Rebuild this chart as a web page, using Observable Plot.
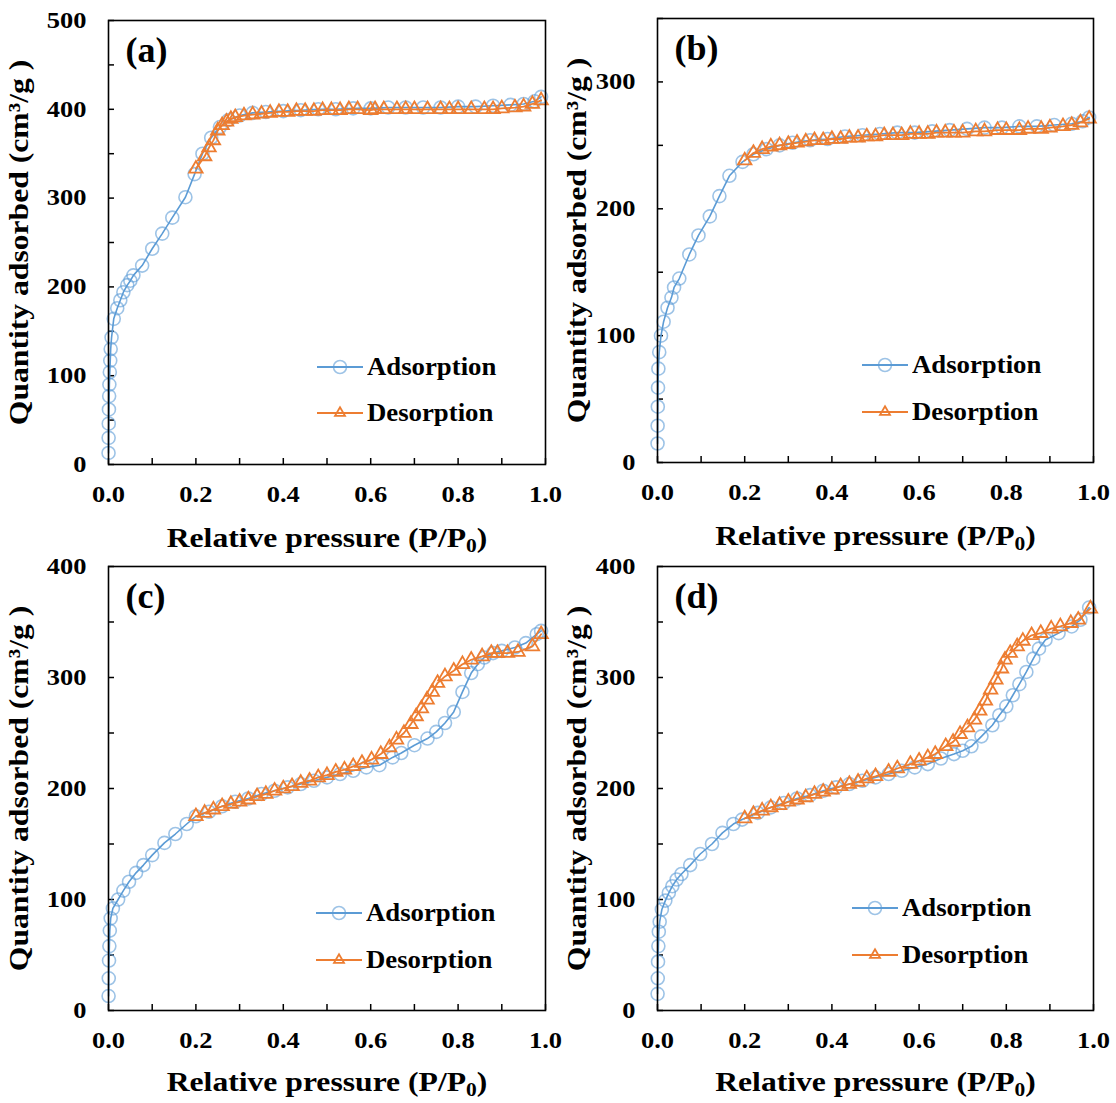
<!DOCTYPE html>
<html><head><meta charset="utf-8">
<script src="https://cdn.jsdelivr.net/npm/d3@7"></script>
<script src="https://cdn.jsdelivr.net/npm/@observablehq/plot@0.6"></script>
<style>
html,body{margin:0;padding:0;background:#fff;}
#root{position:relative;width:1116px;height:1103px;overflow:hidden;background:#fff;}
.panel{position:absolute;}
.panel svg{overflow:visible;}
.panel g[aria-label="x-axis label"] text,.panel g[aria-label="y-axis label"] text{font-size:28px !important;}
.leg{position:absolute;display:flex;align-items:center;height:30px;font-family:"Liberation Serif","Times New Roman",serif;font-weight:bold;font-size:25px;color:#000;white-space:nowrap;}
.leg span{display:inline-block;transform:scaleX(1.07);transform-origin:left center;margin-left:2px;}
</style></head>
<body><div id="root"></div>
<script>
// ---------- data ----------
const xTicks = [0,0.1,0.2,0.3,0.4,0.5,0.6,0.7,0.8,0.9,1.0];
const xTickLabels = [0,0.2,0.4,0.6,0.8,1.0];

// (a)
const aYTicks = [0,50,100,150,200,250,300,350,400,450,500];
const aYLabels = [0,100,200,300,400,500];
const aAdsP = [0.0001,0.0003,0.0006,0.001,0.0015,0.002,0.003,0.004,0.005,0.007,0.012,0.02,0.027,0.034,0.043,0.05,0.057,0.077,0.1,0.123,0.146,0.176,0.197,0.215,0.235,0.255,0.275,0.3,0.33,0.36,0.4,0.44,0.48,0.52,0.56,0.6,0.64,0.68,0.72,0.76,0.8,0.84,0.88,0.92,0.95,0.975,0.99];
const aAdsQ = [13,30,46,62,77,90,104,117,130,143,164,176,185,194,202,207,213,224,243,260,278,301,327,350,368,380,388,393,396,397,398,399,400,400,401,401,402,402,402,402,403,403,404,405,406,409,414];
const aDesP = [0.99,0.97,0.95,0.93,0.9,0.88,0.86,0.83,0.8,0.78,0.76,0.73,0.7,0.68,0.66,0.63,0.61,0.6,0.57,0.55,0.53,0.51,0.49,0.47,0.45,0.43,0.41,0.39,0.37,0.35,0.33,0.31,0.29,0.28,0.27,0.26,0.25,0.24,0.23,0.22,0.2];
const aDesQ = [410,406,403,402,401,400,400,400,400,400,400,400,400,400,400,400,400,399,400,400,399,399,399,398,398,398,397,397,396,395,394,393,391,389,386,382,376,365,357,347,333];

// (b)
const bYTicks = [0,50,100,150,200,250,300,350];
const bYLabels = [0,100,200,300];
const bAdsP = [0.0001,0.0003,0.0007,0.0012,0.002,0.004,0.008,0.014,0.023,0.032,0.038,0.05,0.073,0.094,0.12,0.142,0.165,0.195,0.22,0.25,0.28,0.31,0.35,0.39,0.43,0.47,0.51,0.55,0.59,0.63,0.67,0.71,0.75,0.79,0.83,0.87,0.91,0.95,0.975,0.99];
const bAdsQ = [15,29,44,59,74,87,100,111,122,130,138,145,164,179,194,210,226,237,243,247,250,252,254,255,257,258,259,260,260,261,262,263,264,264,265,265,266,267,269,272];
const bDesP = [0.99,0.97,0.95,0.93,0.9,0.88,0.85,0.83,0.8,0.78,0.75,0.73,0.7,0.68,0.66,0.64,0.62,0.6,0.58,0.56,0.54,0.52,0.5,0.48,0.46,0.44,0.42,0.4,0.38,0.36,0.34,0.32,0.3,0.28,0.26,0.24,0.22,0.2];
const bDesQ = [271,268,266,265,264,263,263,262,262,262,261,261,260,260,260,260,259,259,259,258,258,258,257,257,256,256,255,255,254,254,253,252,251,250,249,247,244,238];

// (c)
const cYTicks = [0,50,100,150,200,250,300,350,400];
const cYLabels = [0,100,200,300,400];
const cAdsP = [0.0002,0.0006,0.0012,0.002,0.003,0.005,0.01,0.022,0.034,0.047,0.063,0.08,0.1,0.128,0.153,0.179,0.2,0.23,0.26,0.29,0.32,0.35,0.38,0.41,0.44,0.47,0.5,0.53,0.56,0.59,0.62,0.65,0.67,0.7,0.73,0.75,0.77,0.79,0.81,0.83,0.845,0.86,0.88,0.9,0.93,0.955,0.98,0.99];
const cAdsQ = [13,29,45,58,72,83,92,100,108,116,124,131,140,151,159,168,175,179,184,188,191,195,198,201,204,207,210,213,216,219,221,228,232,239,245,251,259,269,287,304,312,318,322,324,327,331,339,342];
const cDesP = [0.99,0.97,0.937,0.913,0.89,0.876,0.855,0.83,0.81,0.79,0.77,0.753,0.741,0.729,0.716,0.704,0.692,0.676,0.659,0.643,0.623,0.602,0.58,0.56,0.54,0.52,0.5,0.48,0.46,0.44,0.42,0.4,0.38,0.36,0.34,0.32,0.3,0.28,0.26,0.24,0.22,0.2];
const cDesQ = [339,328,323,322,322,322,319,316,312,306,301,295,287,280,272,265,258,250,244,237,231,226,223,220,217,215,212,210,207,205,202,200,198,195,193,190,188,186,184,181,178,175];

// (d)
const dYTicks = [0,50,100,150,200,250,300,350,400];
const dYLabels = [0,100,200,300,400];
const dAdsP = [0.0002,0.0006,0.0012,0.002,0.003,0.005,0.01,0.018,0.026,0.034,0.044,0.055,0.075,0.098,0.125,0.149,0.174,0.194,0.23,0.26,0.29,0.32,0.35,0.38,0.41,0.44,0.47,0.5,0.53,0.56,0.59,0.62,0.65,0.68,0.7,0.72,0.743,0.768,0.784,0.8,0.815,0.83,0.846,0.862,0.875,0.89,0.92,0.95,0.97,0.99];
const dAdsQ = [15,29,44,58,71,80,91,99,106,112,118,123,131,141,150,160,168,172,178,183,187,191,194,198,201,204,207,210,213,216,219,222,227,231,234,238,247,257,266,274,284,294,305,317,326,334,340,346,352,363];
const dDesP = [0.993,0.965,0.948,0.924,0.903,0.879,0.858,0.838,0.825,0.809,0.797,0.789,0.776,0.764,0.752,0.739,0.727,0.711,0.694,0.678,0.661,0.637,0.62,0.6,0.58,0.55,0.53,0.5,0.48,0.46,0.44,0.42,0.4,0.38,0.36,0.34,0.32,0.3,0.28,0.26,0.24,0.22,0.2];
const dDesQ = [362,352,349,346,344,340,338,333,328,322,316,308,298,289,279,270,262,255,249,242,238,231,228,225,222,218,215,211,209,206,204,202,199,197,195,192,190,188,185,183,180,177,173];

const seriesNames = ["Adsorption","Desorption"];
const panelTags = ["(a)","(b)","(c)","(d)"];
const xTitle = "Relative pressure (P/P0)";
const yTitle = "Quantity adsorbed (cm³/g )";

// ---------- layout ----------
const BLUE = "#5B9BD5", ORANGE = "#ED7D31";
const panels = [
  {tag:panelTags[0], left:0,   top:0,   w:558, h:551, mt:20, mr:13, mb:87, ml:108, lo:82, yTicks:aYTicks, yLabels:aYLabels, ads:[aAdsP,aAdsQ], des:[aDesP,aDesQ], leg:{x:317,y1:367,y2:413}},
  {tag:panelTags[1], left:558, top:0,   w:558, h:551, mt:18, mr:23, mb:89, ml:99,  lo:82, yTicks:bYTicks, yLabels:bYLabels, ads:[bAdsP,bAdsQ], des:[bDesP,bDesQ], leg:{x:862,y1:365,y2:412}},
  {tag:panelTags[2], left:0,   top:551, w:558, h:552, mt:15, mr:13, mb:93, ml:108, lo:80, yTicks:cYTicks, yLabels:cYLabels, ads:[cAdsP,cAdsQ], des:[cDesP,cDesQ], leg:{x:316,y1:913,y2:960}},
  {tag:panelTags[3], left:558, top:551, w:558, h:552, mt:15, mr:23, mb:93, ml:99,  lo:80, yTicks:dYTicks, yLabels:dYLabels, ads:[dAdsP,dAdsQ], des:[dDesP,dDesQ], leg:{x:852,y1:908,y2:955}}
];

const root = document.getElementById("root");
const SVGNS = "http://www.w3.org/2000/svg";

function stretch(el, k) {
  const L = el.getComputedTextLength();
  if (L > 0) { el.setAttribute("textLength", (L * k).toFixed(1)); el.setAttribute("lengthAdjust", "spacingAndGlyphs"); }
}

panels.forEach(p => {
  const ads = p.ads[0].map((x, i) => ({p: x, q: p.ads[1][i]}));
  const des = p.des[0].map((x, i) => ({p: x, q: p.des[1][i]}));
  const yMax = p.yTicks[p.yTicks.length - 1];
  const svg = Plot.plot({
    width: p.w, height: p.h,
    marginTop: p.mt, marginRight: p.mr, marginBottom: p.mb, marginLeft: p.ml,
    x: {domain: [0, 1]},
    y: {domain: [0, yMax]},
    style: {fontFamily: "'Liberation Serif', 'Times New Roman', serif", fontWeight: "bold", color: "#000", background: "transparent", overflow: "visible"},
    marks: [
      Plot.axisX(xTicks, {tickSize: -6, tickFormat: () => "", label: null, strokeWidth: 1.5}),
      Plot.axisX(xTickLabels, {tickSize: 0, tickPadding: 21, tickFormat: d3.format(".1f"), fontSize: 23,
        label: xTitle, labelAnchor: "center", labelArrow: "none", labelOffset: p.lo}),
      Plot.axisY(p.yTicks, {tickSize: -6, tickFormat: () => "", label: null, strokeWidth: 1.5}),
      Plot.axisY(p.yLabels, {tickSize: 0, tickPadding: 22, fontSize: 23,
        label: yTitle, labelAnchor: "center", labelArrow: "none", labelOffset: p.ml - 8}),
      Plot.line(ads, {x: "p", y: "q", stroke: BLUE, strokeWidth: 1.6}),
      Plot.dot(ads, {x: "p", y: "q", r: 6.5, stroke: BLUE, strokeOpacity: 0.6, strokeWidth: 1.6, fill: "none"}),
      Plot.line(des, {x: "p", y: "q", stroke: ORANGE, strokeWidth: 1.8}),
      Plot.dot(des, {x: "p", y: "q", symbol: "triangle", r: 5, stroke: ORANGE, strokeWidth: 1.8, fill: "none"}),
      Plot.text([p.tag], {text: d => d, frameAnchor: "top-left", dx: 17, dy: 16, fontSize: 36, lineAnchor: "top", textAnchor: "start", fill: "#000"}),
      Plot.frame({stroke: "#000", strokeWidth: 1.6})
    ]
  });
  const div = document.createElement("div");
  div.className = "panel";
  div.style.left = p.left + "px";
  div.style.top = p.top + "px";
  div.style.width = p.w + "px";
  div.style.height = p.h + "px";
  div.appendChild(svg);
  root.appendChild(div);

  // subscript 0 in the x title
  const xl = svg.querySelector('g[aria-label="x-axis label"] text');
  if (xl) {
    xl.textContent = "Relative pressure (P/P";
    const sub = document.createElementNS(SVGNS, "tspan");
    sub.setAttribute("font-size", "19");
    sub.setAttribute("dy", "5");
    sub.textContent = "0";
    const close = document.createElementNS(SVGNS, "tspan");
    close.setAttribute("dy", "-5");
    close.textContent = ")";
    xl.appendChild(sub); xl.appendChild(close);
    stretch(xl, 1.13);
  }
  const yl = svg.querySelector('g[aria-label="y-axis label"] text');
  if (yl) stretch(yl, 1.13);
  svg.querySelectorAll('g[aria-label="x-axis tick label"] text, g[aria-label="y-axis tick label"] text').forEach(t => stretch(t, 1.15));

  // legend
  const mk = (name, color, sym, y) => {
    const row = document.createElement("div");
    row.className = "leg";
    row.style.left = (p.leg.x - p.left) + "px";
    row.style.top = (y - p.top - 15) + "px";
    const marker = sym === "circle"
      ? `<circle cx="23" cy="15" r="6.5" fill="none" stroke="${color}" stroke-opacity="0.6" stroke-width="1.6"/>`
      : `<path d="M23,9.2 L28,17.9 L18,17.9 Z" fill="none" stroke="${color}" stroke-width="1.8"/>`;
    row.innerHTML = `<svg width="48" height="30"><line x1="0" y1="15" x2="46" y2="15" stroke="${color}" stroke-width="1.8"/>${marker}</svg><span>${name}</span>`;
    div.appendChild(row);
  };
  mk(seriesNames[0], BLUE, "circle", p.leg.y1);
  mk(seriesNames[1], ORANGE, "triangle", p.leg.y2);
});
</script>
</body></html>
